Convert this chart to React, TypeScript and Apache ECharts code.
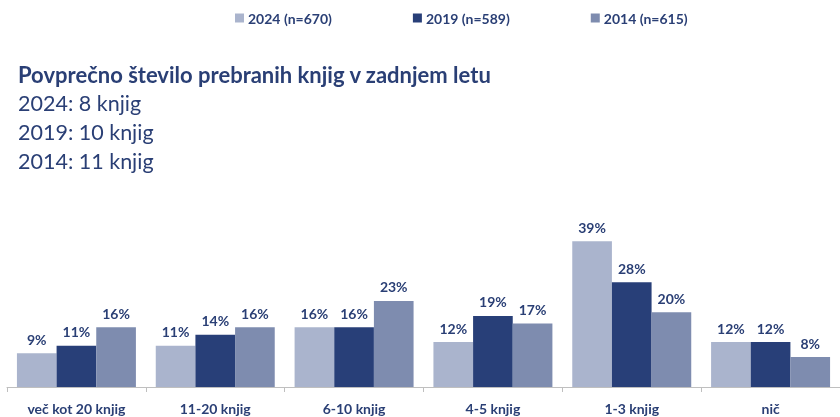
import React, { useEffect, useRef } from "react";
import * as echarts from "echarts";

const categories = ["več kot 20 knjig", "11-20 knjig", "6-10 knjig", "4-5 knjig", "1-3 knjig", "nič"];
const seriesNames = ["2024 (n=670)", "2019 (n=589)", "2014 (n=615)"];
const values2024 = [9, 11, 16, 12, 39, 12];
const values2019 = [11, 14, 16, 19, 28, 12];
const values2014 = [16, 16, 23, 17, 20, 8];
const headline = "Povprečno število prebranih knjig v zadnjem letu";
const summaryLines = ["2024: 8 knjig", "2019: 10 knjig", "2014: 11 knjig"];

const TEXT = "#2a3f75";
const COLORS = ["#aab4cd", "#283f78", "#7e8caf"];
const FONT = "Lato, 'Open Sans', sans-serif";

export default function App() {
  const ref = useRef<HTMLDivElement>(null);
  useEffect(() => {
    if (!ref.current) return;
    const chart = echarts.init(ref.current, null, { renderer: "svg" });
    const data = [values2024, values2019, values2014];
    chart.setOption({
      animation: false,
      textStyle: { fontFamily: FONT },
      legend: {
        top: 11,
        left: 235,
        padding: 0,
        itemWidth: 9,
        itemHeight: 9,
        itemGap: 81,
        icon: "rect",
        textStyle: { color: TEXT, fontWeight: "bold", fontSize: 14, fontFamily: FONT, padding: [0, 0, 0, -1] },
        data: seriesNames,
      },
      graphic: [
        {
          type: "text",
          left: 18,
          top: 63,
          style: { text: headline, fill: TEXT, font: `bold 22px ${FONT}` },
        },
        ...summaryLines.map((t, i) => ({
          type: "text",
          left: 18,
          top: 92 + i * 29,
          style: { text: t, fill: TEXT, font: `21.5px ${FONT}` },
        })),
      ],
      grid: { left: 7, right: -5, top: 200, bottom: 30, containLabel: false },
      xAxis: {
        type: "category",
        data: categories,
        axisLine: { lineStyle: { color: "#bfbfbf" } },
        axisTick: { show: true, length: 5, lineStyle: { color: "#bfbfbf" } },
        axisLabel: { color: TEXT, fontWeight: "bold", fontSize: 14, fontFamily: FONT, margin: 14 },
      },
      yAxis: {
        type: "value",
        min: 0,
        max: 50,
        show: false,
        splitLine: { show: false },
      },
      series: seriesNames.map((name, i) => ({
        name,
        type: "bar",
        data: data[i],
        barGap: "0%",
        barCategoryGap: "14.3%",
        itemStyle: { color: COLORS[i] },
        label: {
          show: true,
          position: "top",
          distance: 7,
          formatter: "{c}%",
          color: TEXT,
          fontWeight: "bold",
          fontSize: 14,
          fontFamily: FONT,
        },
      })),
    });
    return () => chart.dispose();
  }, []);
  return <div ref={ref} style={{ position: "fixed", left: 0, top: 0, width: 840, height: 417 }} />;
}
